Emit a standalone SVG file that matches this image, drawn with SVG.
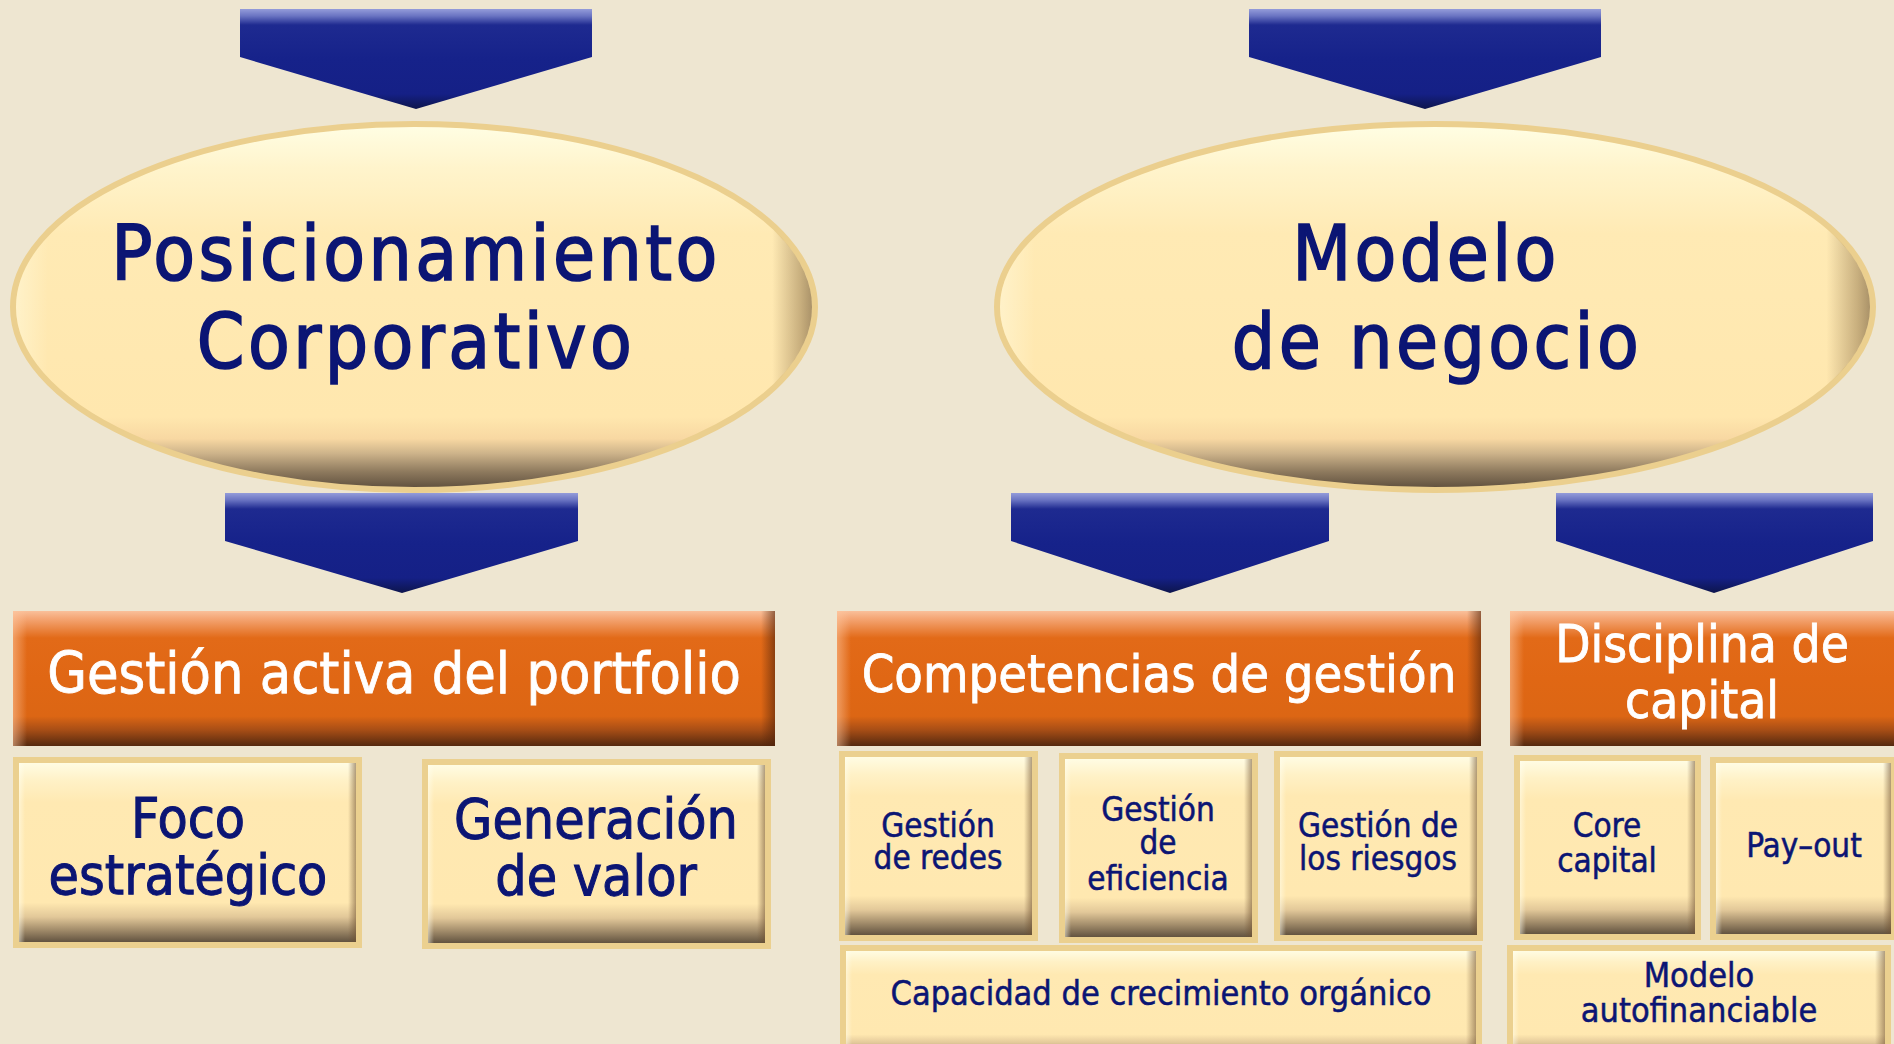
<svg xmlns="http://www.w3.org/2000/svg" width="1894" height="1044" viewBox="0 0 1894 1044">
<style>
  .bg{fill:#EEE6D1}
  .arrow{fill:url(#gArrow)}
  .ell{fill:url(#gEll);stroke:#EBCF8E;stroke-width:6}
  .ellH{fill:url(#gEllH)}
  .bar{fill:url(#gOr)}
  .barL{fill:url(#gOrL)}
  .barR{fill:url(#gOrR)}
  .frame{fill:#EBD08F}
  .box{fill:url(#gBox)}
  .boxL{fill:url(#gBoxL)}
  .boxR{fill:url(#gBoxR)}
  text{font-family:"DejaVu Sans","Liberation Sans",sans-serif;font-stretch:condensed;text-anchor:middle}
  .big{font-size:76px;fill:#0B1574;stroke:#0B1574;stroke-width:1.6px;letter-spacing:3.4px}
  .head{fill:#FFFFFF;stroke:#FFFFFF;stroke-width:0.8px}
  .mid{font-size:55px;fill:#0B1574;stroke:#0B1574;stroke-width:1px}
  .sm{font-size:33px;fill:#0B1574;stroke:#0B1574;stroke-width:0.5px}
  .sm2{font-size:34px;fill:#0B1574;stroke:#0B1574;stroke-width:0.5px}
</style>
<defs>
  <linearGradient id="gArrow" x1="0" y1="0" x2="0" y2="1">
    <stop offset="0" stop-color="#949CDA"/>
    <stop offset="0.07" stop-color="#6A74C2"/>
    <stop offset="0.16" stop-color="#1E2A90"/>
    <stop offset="0.5" stop-color="#16228A"/>
    <stop offset="0.85" stop-color="#152086"/>
    <stop offset="1" stop-color="#0D154C"/>
  </linearGradient>
  <linearGradient id="gEll" x1="0" y1="0" x2="0" y2="1">
    <stop offset="0" stop-color="#FFFEE4"/>
    <stop offset="0.12" stop-color="#FFF4CC"/>
    <stop offset="0.3" stop-color="#FFEAB4"/>
    <stop offset="0.8" stop-color="#FFE7AE"/>
    <stop offset="0.86" stop-color="#F8D8A2"/>
    <stop offset="0.9" stop-color="#CDB38A"/>
    <stop offset="0.95" stop-color="#8E7A5E"/>
    <stop offset="1" stop-color="#5A4B3A"/>
  </linearGradient>
  <linearGradient id="gEllH" x1="0" y1="0" x2="1" y2="0">
    <stop offset="0" stop-color="#FFFFEB" stop-opacity="0.4"/>
    <stop offset="0.04" stop-color="#FFFFEB" stop-opacity="0"/>
    <stop offset="0.95" stop-color="#785A32" stop-opacity="0"/>
    <stop offset="0.985" stop-color="#785A32" stop-opacity="0.4"/>
    <stop offset="1" stop-color="#644B2D" stop-opacity="0.55"/>
  </linearGradient>
  <linearGradient id="gOr" x1="0" y1="0" x2="0" y2="1">
    <stop offset="0" stop-color="#F9C09A"/>
    <stop offset="0.05" stop-color="#F5A878"/>
    <stop offset="0.2" stop-color="#E26A18"/>
    <stop offset="0.5" stop-color="#E06714"/>
    <stop offset="0.78" stop-color="#DC6614"/>
    <stop offset="0.88" stop-color="#A84E16"/>
    <stop offset="1" stop-color="#55290F"/>
  </linearGradient>
  <linearGradient id="gOrL" x1="0" y1="0" x2="1" y2="0">
    <stop offset="0" stop-color="#FFC8A0" stop-opacity="0.55"/>
    <stop offset="1" stop-color="#FFC8A0" stop-opacity="0"/>
  </linearGradient>
  <linearGradient id="gOrR" x1="0" y1="0" x2="1" y2="0">
    <stop offset="0" stop-color="#50230A" stop-opacity="0"/>
    <stop offset="1" stop-color="#50230A" stop-opacity="0.6"/>
  </linearGradient>
  <linearGradient id="gBox" x1="0" y1="0" x2="0" y2="1">
    <stop offset="0" stop-color="#FFFCE3"/>
    <stop offset="0.1" stop-color="#FFF1C6"/>
    <stop offset="0.22" stop-color="#FFE9B2"/>
    <stop offset="0.78" stop-color="#FFE8B0"/>
    <stop offset="0.86" stop-color="#E2C899"/>
    <stop offset="0.93" stop-color="#A48E6C"/>
    <stop offset="1" stop-color="#625340"/>
  </linearGradient>
  <linearGradient id="gBoxL" x1="0" y1="0" x2="1" y2="0">
    <stop offset="0" stop-color="#FFFFF0" stop-opacity="0.5"/>
    <stop offset="1" stop-color="#FFFFF0" stop-opacity="0"/>
  </linearGradient>
  <linearGradient id="gBoxR" x1="0" y1="0" x2="1" y2="0">
    <stop offset="0" stop-color="#6E5030" stop-opacity="0"/>
    <stop offset="1" stop-color="#6E5030" stop-opacity="0.55"/>
  </linearGradient>
</defs>

<rect class="bg" x="0" y="0" width="1894" height="1044"/>

<g id="connectors">
  <polygon class="arrow" points="240,9 592,9 592,57 416,109 240,57"/>
  <polygon class="arrow" points="1249,9 1601,9 1601,57 1425,109 1249,57"/>
  <polygon class="arrow" points="225,493 578,493 578,541 402,593 225,541"/>
  <polygon class="arrow" points="1011,493 1329,493 1329,541 1170,593 1011,541"/>
  <polygon class="arrow" points="1556,493 1873,493 1873,541 1714,593 1556,541"/>
</g>

<g id="node-posicionamiento">
  <ellipse class="ell" cx="414" cy="307" rx="401" ry="183"/>
  <ellipse class="ellH" cx="414" cy="307" rx="398" ry="180"/>
  <text class="big" x="416" y="280">Posicionamiento</text>
  <text class="big" x="416" y="368">Corporativo</text>
</g>

<g id="node-modelo">
  <ellipse class="ell" cx="1435" cy="307" rx="438" ry="183"/>
  <ellipse class="ellH" cx="1435" cy="307" rx="435" ry="180"/>
  <text class="big" x="1426" y="280">Modelo</text>
  <text class="big" x="1437" y="368">de negocio</text>
</g>

<g id="node-gestion-activa">
  <rect class="bar" x="13" y="611" width="762" height="135"/>
  <rect class="barL" x="13" y="611" width="14" height="135"/>
  <rect class="barR" x="761" y="611" width="14" height="135"/>
  <text class="head" x="394" y="693" font-size="57">Gestión activa del portfolio</text>
</g>

<g id="node-competencias">
  <rect class="bar" x="837" y="611" width="644" height="135"/>
  <rect class="barL" x="837" y="611" width="14" height="135"/>
  <rect class="barR" x="1467" y="611" width="14" height="135"/>
  <text class="head" x="1159" y="692" font-size="52">Competencias de gestión</text>
</g>

<g id="node-disciplina">
  <rect class="bar" x="1510" y="611" width="390" height="135"/>
  <rect class="barL" x="1510" y="611" width="14" height="135"/>
  <text class="head" x="1702" y="662" font-size="51">Disciplina de</text>
  <text class="head" x="1702" y="718" font-size="51">capital</text>
</g>

<g id="node-foco">
  <rect class="frame" x="13" y="757" width="349" height="191"/>
  <rect class="box" x="19" y="763" width="337" height="179"/>
  <rect class="boxL" x="19" y="763" width="6" height="179"/>
  <rect class="boxR" x="348" y="763" width="8" height="179"/>
  <text class="mid" x="188" y="837">Foco</text>
  <text class="mid" x="188" y="894">estratégico</text>
</g>

<g id="node-generacion">
  <rect class="frame" x="422" y="759" width="349" height="190"/>
  <rect class="box" x="428" y="765" width="337" height="178"/>
  <rect class="boxL" x="428" y="765" width="6" height="178"/>
  <rect class="boxR" x="757" y="765" width="8" height="178"/>
  <text class="mid" x="596" y="838">Generación</text>
  <text class="mid" x="596" y="895">de valor</text>
</g>

<g id="node-redes">
  <rect class="frame" x="839" y="751" width="199" height="190"/>
  <rect class="box" x="845" y="757" width="187" height="178"/>
  <rect class="boxL" x="845" y="757" width="6" height="178"/>
  <rect class="boxR" x="1024" y="757" width="8" height="178"/>
  <text class="sm" x="938" y="837">Gestión</text>
  <text class="sm" x="938" y="869">de redes</text>
</g>

<g id="node-eficiencia">
  <rect class="frame" x="1059" y="753" width="199" height="190"/>
  <rect class="box" x="1065" y="759" width="187" height="178"/>
  <rect class="boxL" x="1065" y="759" width="6" height="178"/>
  <rect class="boxR" x="1244" y="759" width="8" height="178"/>
  <text class="sm" x="1158" y="821">Gestión</text>
  <text class="sm" x="1158" y="854">de</text>
  <text class="sm" x="1158" y="890">eficiencia</text>
</g>

<g id="node-riesgos">
  <rect class="frame" x="1274" y="751" width="209" height="190"/>
  <rect class="box" x="1280" y="757" width="197" height="178"/>
  <rect class="boxL" x="1280" y="757" width="6" height="178"/>
  <rect class="boxR" x="1469" y="757" width="8" height="178"/>
  <text class="sm" x="1378" y="837">Gestión de</text>
  <text class="sm" x="1378" y="870">los riesgos</text>
</g>

<g id="node-core">
  <rect class="frame" x="1514" y="755" width="187" height="185"/>
  <rect class="box" x="1520" y="761" width="175" height="173"/>
  <rect class="boxL" x="1520" y="761" width="6" height="173"/>
  <rect class="boxR" x="1687" y="761" width="8" height="173"/>
  <text class="sm" x="1607" y="837">Core</text>
  <text class="sm" x="1607" y="872">capital</text>
</g>

<g id="node-payout">
  <rect class="frame" x="1710" y="757" width="187" height="183"/>
  <rect class="box" x="1716" y="763" width="175" height="171"/>
  <rect class="boxL" x="1716" y="763" width="6" height="171"/>
  <rect class="boxR" x="1883" y="763" width="8" height="171"/>
  <text class="sm" x="1804" y="857">Pay–out</text>
</g>

<g id="node-capacidad">
  <rect class="frame" x="840" y="945" width="642" height="119"/>
  <rect class="box" x="846" y="951" width="630" height="107"/>
  <rect class="boxL" x="846" y="951" width="6" height="107"/>
  <rect class="boxR" x="1466" y="951" width="10" height="107"/>
  <text class="sm2" x="1161" y="1005">Capacidad de crecimiento orgánico</text>
</g>

<g id="node-autofinanciable">
  <rect class="frame" x="1507" y="945" width="384" height="119"/>
  <rect class="box" x="1513" y="951" width="372" height="107"/>
  <rect class="boxL" x="1513" y="951" width="6" height="107"/>
  <rect class="boxR" x="1875" y="951" width="10" height="107"/>
  <text class="sm2" x="1699" y="987">Modelo</text>
  <text class="sm2" x="1699" y="1022">autofinanciable</text>
</g>
</svg>
